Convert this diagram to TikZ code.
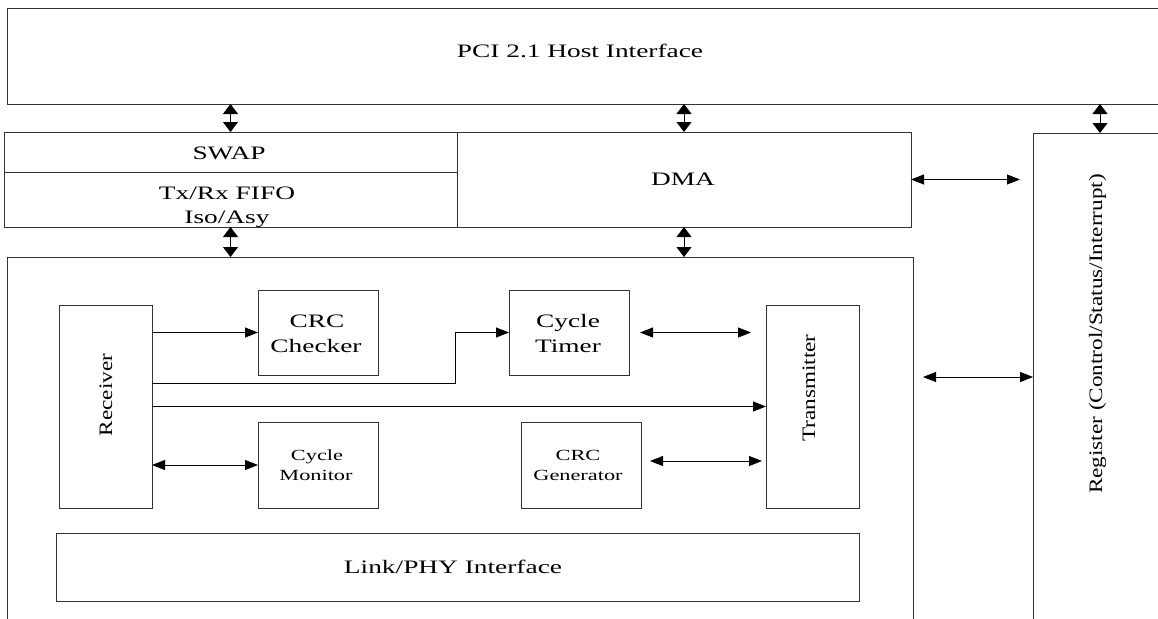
\documentclass[tikz,border=0pt]{standalone}
\usepackage{fontspec}
\usepackage{graphicx}
\setmainfont{Liberation Serif}
\usetikzlibrary{arrows.meta}
\newcommand{\wtext}[1]{\scalebox{1.44}[1]{#1}}
\newcommand{\rtext}[1]{\scalebox{1.22}[1]{#1}}
\tikzset{
  box/.style={draw=black!80, line width=0.8pt, inner sep=0pt, outer sep=0pt, anchor=north west},
  big/.style={font=\fontsize{19}{19}\selectfont, inner sep=0pt, anchor=base},
  small/.style={font=\fontsize{15.5}{16}\selectfont, inner sep=0pt, anchor=base},
  vert/.style={font=\fontsize{19}{19}\selectfont, inner sep=0pt, anchor=base, rotate=90},
  conn/.style={draw=black, line width=0.9pt},
  harr/.style={conn, -{Triangle[length=13pt,width=10pt]}},
  hdbl/.style={conn, {Triangle[length=13pt,width=10pt]}-{Triangle[length=13pt,width=10pt]}},
  vdbl/.style={conn, {Triangle[length=10pt,width=15pt]}-{Triangle[length=10pt,width=15pt]}}
}
\begin{document}
\begin{tikzpicture}[x=1pt,y=-1pt]
\useasboundingbox (0,0) rectangle (1158,618);
\clip (0,0) rectangle (1158,618);
% boxes
\node[box, minimum width=1193pt, minimum height=96pt] (pci) at (7,8) {};
\node[box, minimum width=453pt, minimum height=40pt] (swap) at (4,132) {};
\node[box, minimum width=453pt, minimum height=55pt] (fifo) at (4,172) {};
\node[box, minimum width=454pt, minimum height=95pt] (dma) at (457,132) {};
\node[box, minimum width=134pt, minimum height=520pt] (reg) at (1033,133) {};
\node[box, minimum width=906pt, minimum height=400pt] (main) at (7,257) {};
\node[box, minimum width=93pt, minimum height=203pt] (rx) at (59,305) {};
\node[box, minimum width=120pt, minimum height=85pt] (crcc) at (258,290) {};
\node[box, minimum width=120pt, minimum height=85pt] (ct) at (509,290) {};
\node[box, minimum width=93pt, minimum height=203pt] (tx) at (766,305) {};
\node[box, minimum width=120pt, minimum height=86pt] (cm) at (258,422) {};
\node[box, minimum width=120pt, minimum height=86pt] (crcg) at (521,422) {};
\node[box, minimum width=803pt, minimum height=68pt] (phy) at (56,533) {};
% texts
\node[big] (tpci) at (580,57) {\wtext{PCI 2.1 Host Interface}};
\node[big] (tswap) at (229,159) {\wtext{SWAP}};
\node[big] (tfifo1) at (227,199) {\wtext{Tx/Rx FIFO}};
\node[big] (tfifo2) at (227,223) {\wtext{Iso/Asy}};
\node[big] (tdma) at (683,185) {\wtext{DMA}};
\node[big] (tcrcc1) at (317,327) {\wtext{CRC}};
\node[big] (tcrcc2) at (316,352) {\wtext{Checker}};
\node[big] (tct1) at (568,327) {\wtext{Cycle}};
\node[big] (tct2) at (568,352) {\wtext{Timer}};
\node[small] (tcm1) at (317,460) {\wtext{Cycle}};
\node[small] (tcm2) at (316,480) {\wtext{Monitor}};
\node[small] (tcrcg1) at (578,460) {\wtext{CRC}};
\node[small] (tcrcg2) at (578,480) {\wtext{Generator}};
\node[big] (tphy) at (453,573) {\wtext{Link/PHY Interface}};
\node[vert] (trx) at (112,395) {\rtext{Receiver}};
\node[vert] (ttx) at (815,388) {\rtext{Transmitter}};
\node[vert] (treg) at (1102,334) {\rtext{Register (Control/Status/Interrupt)}};
% connectors
\coordinate (regY) at (0,377);
\coordinate (bend) at (455,383);
\draw[vdbl] (swap.north) -- (swap.north |- pci.south);
\draw[vdbl] (dma.north) -- (dma.north |- pci.south);
\draw[vdbl] (reg.north) -- (reg.north |- pci.south);
\draw[vdbl] (fifo.south) -- (fifo.south |- main.north);
\draw[vdbl] (dma.south) -- (dma.south |- main.north);
\draw[hdbl, shorten >=13pt] (dma.east) -- (dma.east -| reg.west);
\draw[hdbl, shorten <=10pt] (main.east |- regY) -- (reg.west |- regY);
\draw[harr] (rx.east |- crcc.west) -- (crcc.west);
\draw[harr] (rx.east |- bend) -- (bend) |- (ct.west);
\draw[harr] (rx.east |- tx.west) -- (tx.west);
\draw[hdbl] (rx.east |- cm.west) -- (cm.west);
\draw[hdbl, shorten <=11pt, shorten >=15pt] (ct.east) -- (ct.east -| tx.west);
\draw[hdbl, shorten <=9pt, shorten >=4pt] ([yshift=4pt]crcg.east) -- ([yshift=4pt]crcg.east -| tx.west);
\end{tikzpicture}
\end{document}
